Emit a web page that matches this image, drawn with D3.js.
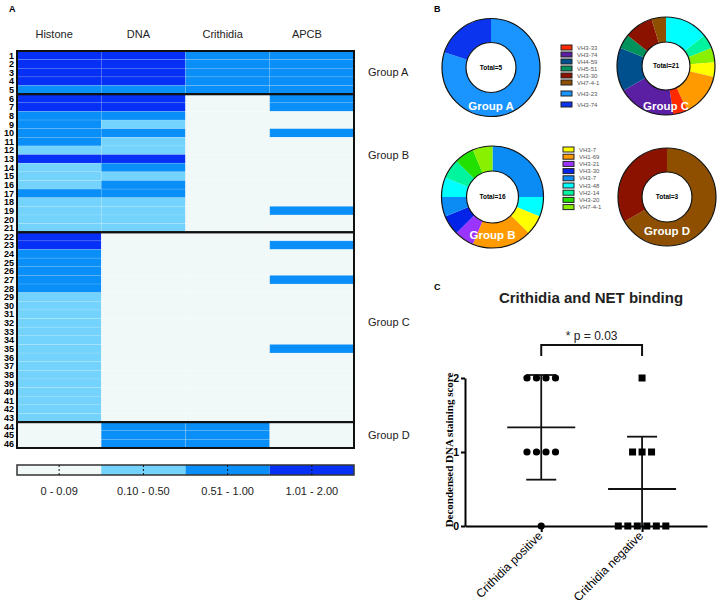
<!DOCTYPE html>
<html>
<head>
<meta charset="utf-8">
<script src="https://cdn.jsdelivr.net/npm/d3@7"></script>
<style>
  body { margin: 0; background: #fff; }
  svg { font-family: "Liberation Sans", Arial, sans-serif; }
</style>
</head>
<body>
<svg id="fig" width="718" height="605"></svg>
<script>
// ---- Panel A : heatmap (level 0..3 per antigen) ----
const antigens = ['Histone', 'DNA', 'Crithidia', 'APCB'];
const histone   = [3,3,3,3,2, 3,3,2,2,2,2,1,3,1,1,1,2,1,1,1,1, 3,3,2,2,2,2,2,1,1,1,1,1,1,1,1,1,1,1,1,1,1,1, 0,0,0];
const dna       = [3,3,3,3,2, 3,3,2,1,2,1,1,3,2,1,2,2,1,1,1,1, 0,0,0,0,0,0,0,0,0,0,0,0,0,0,0,0,0,0,0,0,0,0, 2,2,2];
const crithidia = [2,2,2,2,2, 0,0,0,0,0,0,0,0,0,0,0,0,0,0,0,0, 0,0,0,0,0,0,0,0,0,0,0,0,0,0,0,0,0,0,0,0,0,0, 2,2,2];
const apcb      = [2,2,2,2,2, 2,2,0,0,2,0,0,0,0,0,0,0,0,2,0,0, 0,2,0,0,0,2,0,0,0,0,0,0,0,2,0,0,0,0,0,0,0,0, 0,0,0];
const groupNames = ['Group A', 'Group B', 'Group C', 'Group D'];
const groupRows = [[1, 5], [6, 21], [22, 43], [44, 46]];
const levelLabels = ['0 - 0.09', '0.10 - 0.50', '0.51 - 1.00', '1.01 - 2.00'];
const levelColours = ['#f0f8f8', '#73d3fc', '#0a8ff8', '#0630f6'];

// ---- Panel B : VH usage donuts ----
const legendTop = ['VH3-33', 'VH3-74', 'VH4-59', 'VH5-51', 'VH3-30', 'VH7-4-1', 'VH3-23', 'VH3-74'];
const legendTopColours = ['#ff2a00', '#5a1fa3', '#00508e', '#00925c', '#8c1200', '#8e5000', '#1a94ff', '#0a34ee'];
const legendBottom = ['VH3-7', 'VH1-69', 'VH3-21', 'VH3-30', 'VH3-7', 'VH3-48', 'VH2-14', 'VH3-20', 'VH7-4-1'];
const legendBottomColours = ['#ffff00', '#ff9a00', '#9a35ff', '#0324e8', '#0a8cf4', '#00ffff', '#00f59e', '#22e000', '#88f000'];
// segments: [legend key, count], clockwise from 12 o'clock
const groupA = [['t6', 4], ['t7', 1]];
const groupB = [['b4', 4], ['b5', 1], ['b0', 1], ['b1', 3], ['b2', 1], ['b3', 1], ['b4', 1], ['b5', 1], ['b6', 1], ['b7', 1], ['b8', 1]];
const groupC = [['b5', 3], ['b6', 1], ['b8', 1], ['b0', 1], ['b1', 3], ['t0', 1], ['t1', 4], ['t2', 3], ['t3', 1], ['t4', 2], ['t5', 1]];
const groupD = [['t5', 2], ['t4', 1]];

// ---- Panel C : Crithidia and NET binding ----
const scatterGroups = ['Crithidia positive', 'Crithidia negative'];
const positiveScores = [2, 2, 2, 2, 1, 1, 1, 1, 0];
const negativeScores = [2, 1, 1, 1, 0, 0, 0, 0, 0, 0];
const pLabel = '* p = 0.03';

const svg = d3.select('#fig');

// panel letters
svg.append('text').attr('x', 9).attr('y', 12).attr('font-size', 9).attr('font-weight', 'bold').text('A');
svg.append('text').attr('x', 434).attr('y', 12).attr('font-size', 9).attr('font-weight', 'bold').text('B');
svg.append('text').attr('x', 434).attr('y', 290).attr('font-size', 9).attr('font-weight', 'bold').text('C');

// ================= heatmap =================
const colour = d3.scaleOrdinal().domain([0, 1, 2, 3]).range(levelColours);
const rowIds = d3.range(1, histone.length + 1);
const x = d3.scaleBand().domain(antigens).range([17, 354]);
const y = d3.scaleBand().domain(rowIds).range([51, 448]);
const columns = [histone, dna, crithidia, apcb];

const cells = [];
columns.forEach((col, ci) => col.forEach((v, ri) => cells.push({ a: antigens[ci], r: rowIds[ri], v: v })));

const hm = svg.append('g');
hm.selectAll('rect.cell')
  .data(cells)
  .enter()
  .append('rect')
    .attr('class', 'cell')
    .attr('x', d => x(d.a))
    .attr('y', d => y(d.r))
    .attr('width', x.bandwidth())
    .attr('height', y.bandwidth())
    .attr('fill', d => colour(d.v))
    .attr('stroke', 'rgba(255,255,255,0.18)')
    .attr('stroke-width', 0.6);

// column headers
hm.selectAll('text.head')
  .data(antigens)
  .enter()
  .append('text')
    .attr('x', d => x(d) + x.bandwidth() / 2 - 5)
    .attr('y', 38)
    .attr('text-anchor', 'middle')
    .attr('font-size', 11)
    .attr('fill', '#222')
    .text(d => d);

// row numbers
hm.selectAll('text.row')
  .data(rowIds)
  .enter()
  .append('text')
    .attr('x', 14)
    .attr('y', d => y(d) + y.bandwidth() / 2)
    .attr('dy', '0.36em')
    .attr('text-anchor', 'end')
    .attr('font-size', 9)
    .attr('font-weight', 'bold')
    .text(d => d);

// group boxes and labels
groupRows.forEach((g, i) => {
  const top = y(g[0]);
  const bottom = y(g[1]) + y.bandwidth();
  hm.append('rect')
    .attr('x', 17).attr('y', top)
    .attr('width', 337).attr('height', bottom - top)
    .attr('fill', 'none').attr('stroke', '#111').attr('stroke-width', 2);
  hm.append('text')
    .attr('x', 368)
    .attr('y', (top + bottom) / 2 - (i === 1 ? 8 : i === 2 ? 5 : 0))
    .attr('dy', '0.35em')
    .attr('font-size', 11)
    .attr('fill', '#222')
    .text(groupNames[i]);
});

// colour legend
const lx = d3.scaleBand().domain(levelLabels).range([17, 354]);
const leg = svg.append('g');
leg.selectAll('rect')
  .data(levelLabels)
  .enter()
  .append('rect')
    .attr('x', d => lx(d))
    .attr('y', 465)
    .attr('width', lx.bandwidth())
    .attr('height', 10)
    .attr('fill', (d, i) => levelColours[i]);
leg.append('rect')
  .attr('x', 17).attr('y', 465).attr('width', 337).attr('height', 10)
  .attr('fill', 'none').attr('stroke', '#333').attr('stroke-width', 1.5);
leg.selectAll('line')
  .data(levelLabels)
  .enter()
  .append('line')
    .attr('x1', d => lx(d) + lx.bandwidth() / 2)
    .attr('x2', d => lx(d) + lx.bandwidth() / 2)
    .attr('y1', 465).attr('y2', 475)
    .attr('stroke', '#111').attr('stroke-dasharray', '2,2');
leg.selectAll('text')
  .data(levelLabels)
  .enter()
  .append('text')
    .attr('x', d => lx(d) + lx.bandwidth() / 2)
    .attr('y', 495)
    .attr('text-anchor', 'middle')
    .attr('font-size', 11)
    .attr('fill', '#222')
    .text(d => d);

// ================= donuts =================
const keyColour = {};
legendTopColours.forEach((c, i) => keyColour['t' + i] = c);
legendBottomColours.forEach((c, i) => keyColour['b' + i] = c);

const pie = d3.pie().sort(null).value(d => d[1]);

function donut(data, cx, cy, rOut, rIn, name, labelDy) {
  const g = svg.append('g').attr('transform', `translate(${cx},${cy})`);
  const arc = d3.arc().innerRadius(rIn).outerRadius(rOut);
  g.selectAll('path')
    .data(pie(data))
    .enter()
    .append('path')
      .attr('d', arc)
      .attr('fill', d => keyColour[d.data[0]]);
  g.append('circle').attr('r', rOut).attr('fill', 'none').attr('stroke', '#111').attr('stroke-width', 1.2);
  g.append('circle').attr('r', rIn).attr('fill', '#fff').attr('stroke', '#111').attr('stroke-width', 1.2);
  g.append('text')
    .attr('text-anchor', 'middle').attr('dy', '0.35em')
    .attr('font-size', 6.5).attr('font-weight', 'bold')
    .text('Total=' + d3.sum(data, d => d[1]));
  g.append('text')
    .attr('text-anchor', 'middle').attr('y', labelDy)
    .attr('font-size', 11.5).attr('font-weight', 'bold').attr('fill', '#fff')
    .text(name);
}
donut(groupA, 491, 67.5, 49, 25, 'Group A', 42.5);
donut(groupC, 666, 66, 49, 24, 'Group C', 44);
donut(groupB, 492.5, 197, 51, 26, 'Group B', 42);
donut(groupD, 667, 197, 49, 25, 'Group D', 38);

function legendList(labels, colours, x0, ys) {
  const g = svg.append('g');
  labels.forEach((lab, i) => {
    g.append('rect')
      .attr('x', x0).attr('y', ys[i] - 2.5)
      .attr('width', 11).attr('height', 5)
      .attr('fill', colours[i]).attr('stroke', '#222').attr('stroke-width', 1);
    g.append('text')
      .attr('x', x0 + 16).attr('y', ys[i]).attr('dy', '0.35em')
      .attr('font-size', 6).attr('fill', '#555')
      .text(lab);
  });
}
legendList(legendTop, legendTopColours, 561, [47.5, 54.5, 61.5, 68.5, 75.5, 82.5, 93.5, 104.5]);
legendList(legendBottom, legendBottomColours, 563, d3.range(9).map(i => 149.5 + i * 7.2));

// ================= scatter =================
const sx = d3.scalePoint().domain(scatterGroups).range([465, 707]).padding(0.7).align(0.54);
const sy = d3.scaleLinear().domain([0, 2]).range([526, 378]);
const sc = svg.append('g');

sc.append('text')
  .attr('x', 591).attr('y', 303)
  .attr('text-anchor', 'middle')
  .attr('font-size', 15).attr('font-weight', 'bold')
  .attr('fill', '#222')
  .text('Crithidia and NET binding');

const yAxis = sc.append('g')
  .attr('transform', 'translate(465,0)')
  .call(d3.axisLeft(sy).tickValues([0, 1, 2]).tickFormat(d3.format('d')).tickSize(4).tickPadding(2).tickSizeOuter(0));
yAxis.select('.domain').attr('stroke-width', 2);
yAxis.selectAll('line').attr('stroke-width', 2);
yAxis.selectAll('text').attr('font-size', 10.5).attr('font-weight', 'bold').attr('font-family', '"Liberation Sans", Arial');

const xAxis = sc.append('g')
  .attr('transform', 'translate(0,526)')
  .call(d3.axisBottom(sx).tickSize(6).tickSizeOuter(0));
xAxis.select('.domain').attr('stroke-width', 2);
xAxis.selectAll('line').attr('stroke-width', 2);
xAxis.selectAll('text')
  .attr('font-size', 12)
  .attr('font-family', '"Liberation Sans", Arial')
  .attr('text-anchor', 'end')
  .attr('transform', 'translate(-10,-1) rotate(-45)')
  .attr('dy', '0.6em');

sc.append('text')
  .attr('transform', 'translate(453,450) rotate(-90)')
  .attr('text-anchor', 'middle')
  .attr('font-family', '"Liberation Serif", "Times New Roman", serif')
  .attr('font-size', 11).attr('font-weight', 'bold')
  .text('Decondensed DNA staining score');

function swarm(scores, cat) {
  const out = [];
  d3.group(scores, d => d).forEach((vals, v) => {
    vals.forEach((_, i) => out.push({ cat: cat, v: v, off: (i - (vals.length - 1) / 2) * 9.5 }));
  });
  return out;
}
const posPts = swarm(positiveScores, scatterGroups[0]);
const negPts = swarm(negativeScores, scatterGroups[1]);

// mean +/- SD
[[positiveScores, scatterGroups[0]], [negativeScores, scatterGroups[1]]].forEach(([s, cat]) => {
  const m = d3.mean(s), sd = d3.deviation(s);
  const cx = sx(cat);
  const lo = Math.max(0, m - sd), hi = m + sd;
  sc.append('line').attr('x1', cx - 34).attr('x2', cx + 34).attr('y1', sy(m)).attr('y2', sy(m))
    .attr('stroke', '#111').attr('stroke-width', 1.8);
  sc.append('line').attr('x1', cx).attr('x2', cx).attr('y1', sy(lo)).attr('y2', sy(hi))
    .attr('stroke', '#111').attr('stroke-width', 1.8);
  [hi, lo].forEach(v => {
    if (v > 0) sc.append('line').attr('x1', cx - 15).attr('x2', cx + 15).attr('y1', sy(v)).attr('y2', sy(v))
      .attr('stroke', '#111').attr('stroke-width', 1.8);
  });
});

sc.selectAll('circle.pt')
  .data(posPts)
  .enter()
  .append('circle')
    .attr('class', 'pt')
    .attr('cx', d => sx(d.cat) + d.off)
    .attr('cy', d => sy(d.v))
    .attr('r', 3.6)
    .attr('fill', '#000');

sc.selectAll('rect.pt')
  .data(negPts)
  .enter()
  .append('rect')
    .attr('class', 'pt')
    .attr('x', d => sx(d.cat) + d.off - 3.5)
    .attr('y', d => sy(d.v) - 3.5)
    .attr('width', 7).attr('height', 7)
    .attr('fill', '#000');

// significance bracket
const bx1 = sx(scatterGroups[0]), bx2 = sx(scatterGroups[1]);
sc.append('path')
  .attr('d', `M${bx1},356V345H${bx2}V356`)
  .attr('fill', 'none').attr('stroke', '#111').attr('stroke-width', 2);
sc.append('text')
  .attr('x', (bx1 + bx2) / 2).attr('y', 340)
  .attr('text-anchor', 'middle').attr('font-size', 12).attr('fill', '#222')
  .text(pLabel);
</script>
</body>
</html>
